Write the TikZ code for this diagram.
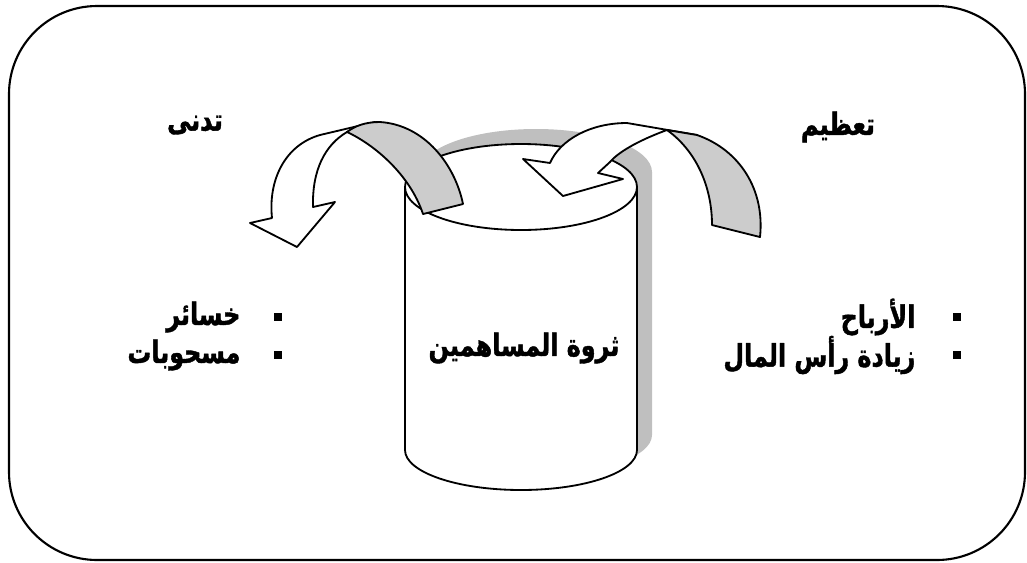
\documentclass[tikz,border=0pt]{standalone}
\usepackage{fontspec}
\newfontfamily\arabicfont[Script=Arabic, FakeStretch=0.77, BoldFeatures={FakeBold=1.3}]{DejaVu Sans}
\TeXXeTstate=1
\usetikzlibrary{positioning}

\begin{document}
\begin{tikzpicture}[
  x=0.025cm, y=-0.025cm,
  line width=1.3pt, line join=round,
  lbl/.style={font=\arabicfont\bfseries\fontsize{22}{26}\selectfont, inner sep=0pt},
  dot/.style={fill=black, inner sep=0pt, minimum size=0.19cm},
  band/.style={draw=black, fill=gray!40},
  back/.style={draw=black, fill=white},
]
  \useasboundingbox (0,0) rectangle (1027,562);
  % outer frame
  \draw[line width=1.5pt, rounded corners=2.2cm] (9,6) rectangle (1025,560);
  % shadow behind the cylinder
  \fill[gray!50] (420,172) -- (420,435) arc[start angle=180, end angle=0, x radius=116, y radius=40] -- (652,172) -- cycle;
  \fill[gray!50] (536,172) ellipse[x radius=116, y radius=43];
  % cylinder
  \draw[fill=white] (405,187) -- (405,450) arc[start angle=180, end angle=0, x radius=116, y radius=40] -- (637,187);
  \draw[fill=white] (521,187) ellipse[x radius=116, y radius=43];
  % left arrow, out of the cylinder
  \draw[back] (272,218) .. controls (268,180) and (285,145) .. (320,135) -- (375,122) -- (347,132)
    .. controls (325,145) and (312,170) .. (313,207) -- (335,202) -- (297,247) -- (250,223) -- cycle;
  \draw[band] (463,204) .. controls (455,165) and (425,125) .. (380,122) .. controls (365,122) and (355,126) .. (347,132)
    .. controls (375,145) and (410,175) .. (423,214) -- cycle;
  % right arrow, into the cylinder
  \draw[back] (550,163) .. controls (560,140) and (590,123) .. (627,123) -- (697,135) -- (667,130)
    .. controls (645,138) and (620,150) .. (610,162) -- (598,173) -- (623,179) -- (563,196) -- (523,159) -- cycle;
  \draw[band] (667,130) -- (697,135) .. controls (740,150) and (765,190) .. (760,237) -- (712,225)
    .. controls (712,185) and (695,150) .. (667,130) -- cycle;
  % titles
  \node[lbl] (decl) at (195,125) {\arabicfont\beginR تدنى\endR};
  \node[lbl] (grow) at (838,127) {\arabicfont\beginR تعظيم\endR};
  \node[lbl] (wealth) at (524,348) {\arabicfont\beginR ثروة المساهمين\endR};
  % left list
  \node[dot] (dl1) at (278,317) {};
  \node[dot] (dl2) at (278,355) {};
  \node[lbl, left=0.8cm of dl1] (loss) {\arabicfont\beginR خسائر\endR};
  \node[lbl, left=0.8cm of dl2] (draw) {\arabicfont\beginR مسحوبات\endR};
  % right list
  \node[dot] (dr1) at (957,317) {};
  \node[dot] (dr2) at (957,355) {};
  \node[lbl, left=0.9cm of dr1] (prof) {\arabicfont\beginR الأرباح\endR};
  \node[lbl, left=0.9cm of dr2] (capl) {\arabicfont\beginR زيادة رأس المال\endR};
\end{tikzpicture}
\end{document}
